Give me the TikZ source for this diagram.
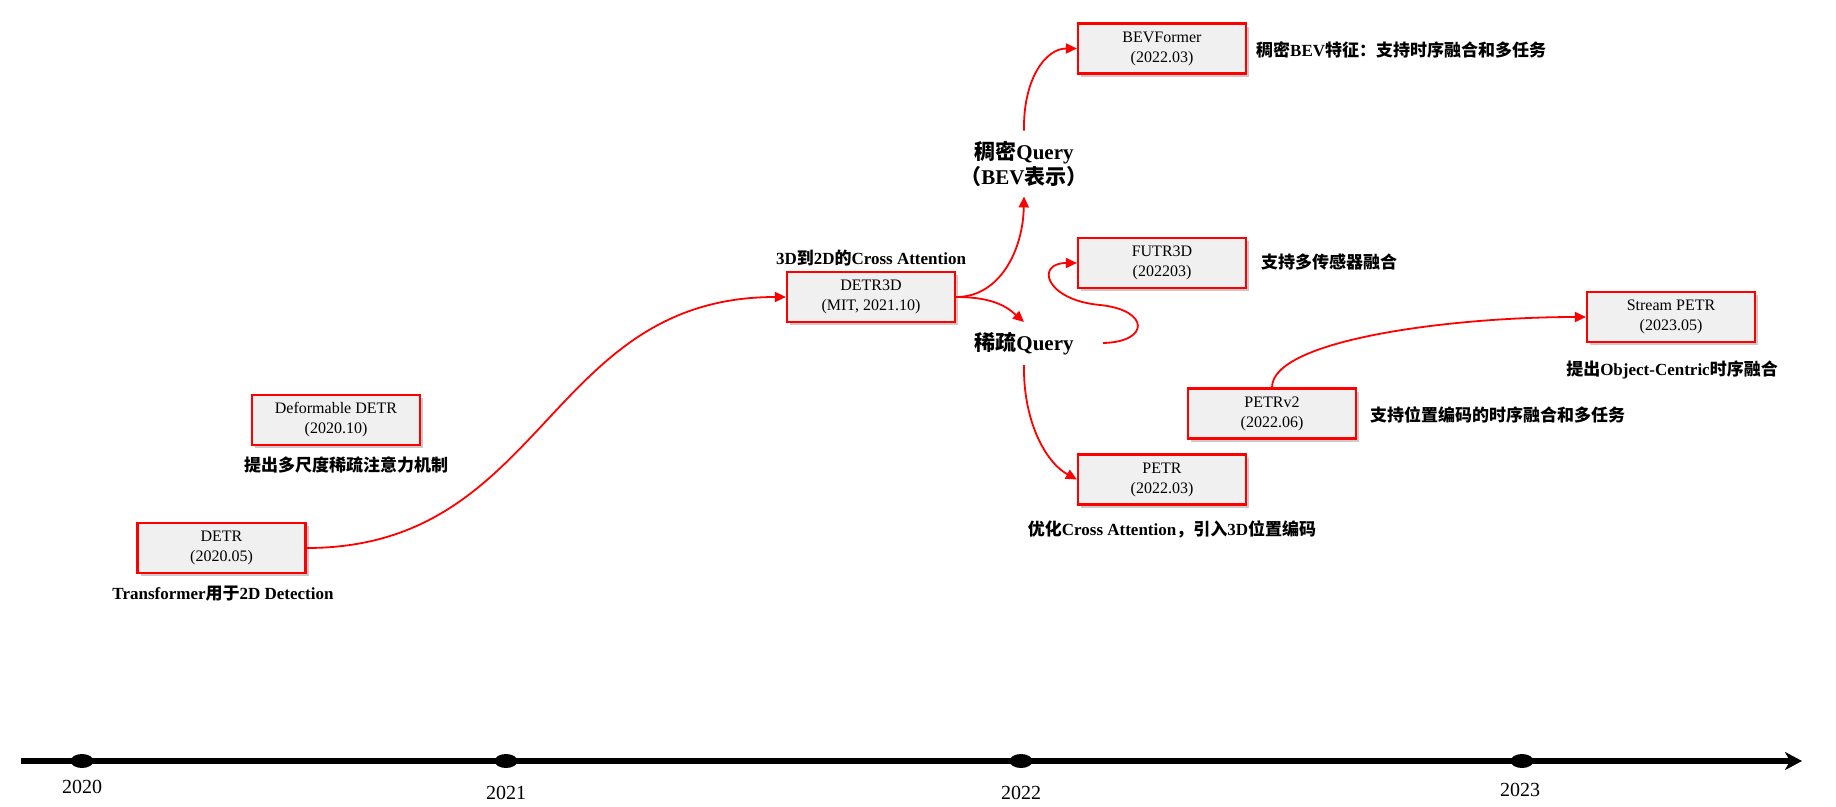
\documentclass[tikz,border=0pt]{standalone}
\usepackage{fontspec}
\setmainfont{Liberation Serif}
\newfontfamily\cjk{Noto Sans CJK SC}
\usetikzlibrary{arrows.meta,shadows,shapes.geometric}
\newcommand\zh[1]{{\cjk #1}}
\begin{document}
\begin{tikzpicture}[x=1pt,y=-1pt,
 paper/.style={draw=red, line width=2.2pt, fill=gray!12, minimum width=168pt, minimum height=50pt, inner sep=0pt, align=center, font=\fontsize{16}{20}\selectfont, drop shadow={shadow xshift=3pt,shadow yshift=-3pt,opacity=0.35,fill=black!60}},
 note/.style={font=\fontsize{17}{20}\selectfont\bfseries, inner sep=0pt},
 qlabel/.style={font=\fontsize{21}{25}\selectfont\bfseries, align=center, inner xsep=0pt, inner ysep=10pt},
 link/.style={draw=red, line width=1.8pt, -{Triangle[length=11pt,width=10pt]}},
 yeardot/.style={ellipse, fill=black, minimum width=23pt, minimum height=14pt, inner sep=0pt},
 year/.style={font=\fontsize{20}{22}\selectfont, inner sep=0pt}
]
\useasboundingbox (0,0) rectangle (1836,806);

% boxes
\node[paper] (detr) at (221.5,548) {DETR\\(2020.05)};
\node[paper] (ddetr) at (336,420) {Deformable DETR\\(2020.10)};
\node[paper] (detr3d) at (871,297) {DETR3D\\(MIT, 2021.10)};
\node[paper] (bevformer) at (1162,48.5) {BEVFormer\\(2022.03)};
\node[paper] (futr3d) at (1162,263) {FUTR3D\\(202203)};
\node[paper] (petr) at (1162,479.5) {PETR\\(2022.03)};
\node[paper] (petrv2) at (1272,413.5) {PETRv2\\(2022.06)};
\node[paper] (stream) at (1671,317) {Stream PETR\\(2023.05)};

% notes
\node[note] (detrL) at (223,594) {Transformer\zh{用于}2D Detection};
\node[note] (ddetrL) at (346,465) {\zh{提出多尺度稀疏注意力机制}};
\node[note] (detr3dL) at (871,258) {3D\zh{到}2D\zh{的}Cross Attention};
\node[note, anchor=west] (bevL) at (1256,50) {\zh{稠密}BEV\zh{特征：支持时序融合和多任务}};
\node[note, anchor=west] (futrL) at (1261,262) {\zh{支持多传感器融合}};
\node[note] (streamL) at (1672,370) {\zh{提出}Object-Centric\zh{时序融合}};
\node[note, anchor=west] (petrv2L) at (1370,415) {\zh{支持位置编码的时序融合和多任务}};
\node[note] (petrL) at (1172,529) {\zh{优化}Cross Attention\zh{，引入}3D\zh{位置编码}};

\node[qlabel] (dense) at (1024,163.5) {\zh{稠密}Query\\\zh{（}BEV\zh{表示）}};
\node[qlabel] (sparse) at (1024,343.5) {\zh{稀疏}Query};

% connectors
\draw[link] (detr.east) .. controls (546,548) and (546,297) .. (detr3d.west);
\draw[link] (detr3d.east) .. controls (1000,297) and (1023,250) .. (dense.south);
\draw[link] (dense.north) .. controls (1023,80) and (1045,48.5) .. (bevformer.west);
\draw[link] (detr3d.east) .. controls (995,297) and (1008,308) .. (sparse.north);
\coordinate (loopstart) at (1103,343);
\draw[link] (loopstart) .. controls (1150,342) and (1150,310) .. (1100,305) .. controls (1045,300) and (1035,263) .. (futr3d.west);
\draw[link] (sparse.south) .. controls (1023,420) and (1045,462) .. (petr.west);
\draw[link] (petrv2.north) .. controls (1272,340) and (1450,317) .. (stream.west);

% timeline
\coordinate (tl0) at (21,761);
\coordinate (tl1) at (1802,761);
\draw[line width=6pt, -{Stealth[length=17pt,width=18pt,inset=5pt]}] (tl0) -- (tl1);
\node[yeardot] (d2020) at (82,761) {};
\node[yeardot] (d2021) at (506,761) {};
\node[yeardot] (d2022) at (1021,761) {};
\node[yeardot] (d2023) at (1522,761) {};
\node[year] (y2020) at (82,787) {2020};
\node[year] (y2021) at (506,793) {2021};
\node[year] (y2022) at (1021,793) {2022};
\node[year] (y2023) at (1520,790) {2023};
\end{tikzpicture}
\end{document}
